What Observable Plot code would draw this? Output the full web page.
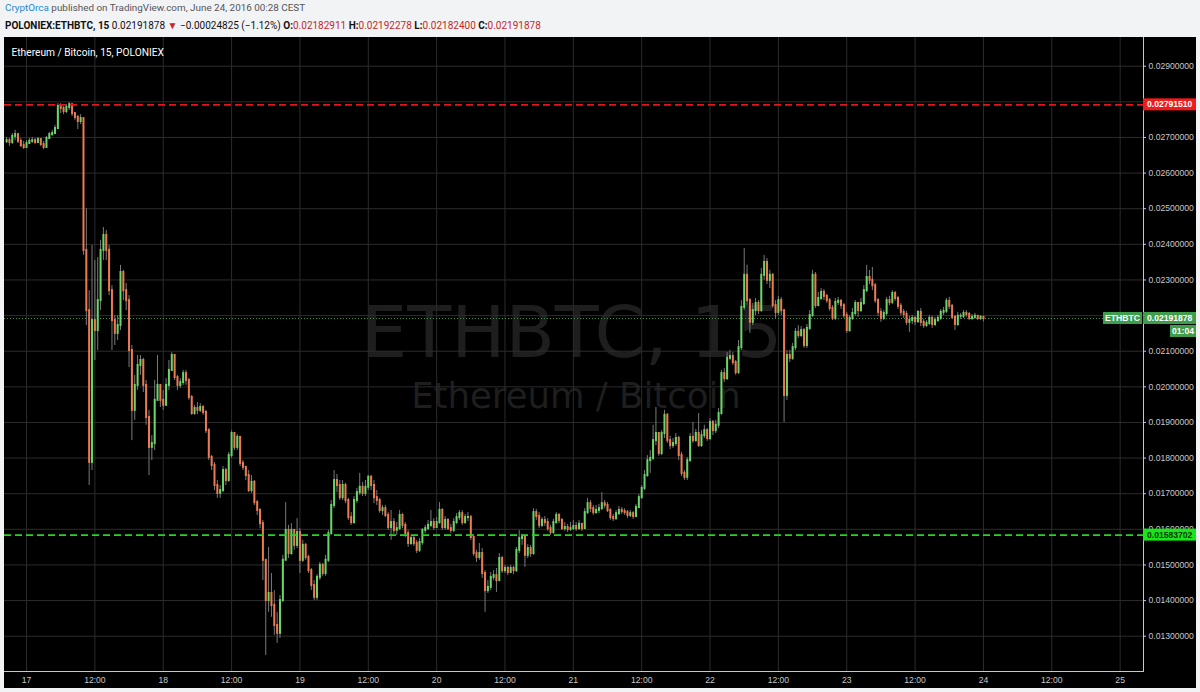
<!DOCTYPE html>
<html><head><meta charset="utf-8">
<script src="https://cdn.jsdelivr.net/npm/d3@7"></script>
<script src="https://cdn.jsdelivr.net/npm/@observablehq/plot@0.6"></script>
<style>
html,body{margin:0;padding:0;background:#f1f3f5;width:1200px;height:692px;overflow:hidden;}
#hdr{position:absolute;left:0;top:0;width:1200px;height:37px;font-family:Roboto,"Liberation Sans",sans-serif;color:#333;}
#l1{position:absolute;left:5px;top:2px;line-height:12px;font-size:9.9px;white-space:nowrap;color:#555;}
#l2{position:absolute;left:5px;top:20px;line-height:12px;font-size:10px;white-space:nowrap;color:#111;}
#l1 .user{color:#1f8ad2;}
.r{color:#c62828;}
#panel{position:absolute;left:4px;top:37px;width:1192px;height:651px;background:#000;}
</style></head><body>
<div id="hdr">
<div id="l1"><span class="user">CryptOrca</span> published on TradingView.com, June 24, 2016 00:28 CEST</div>
<div id="l2"><b>POLONIEX:ETHBTC, 15</b> 0.02191878 <span class="r">▼</span> −0.00024825 (−1.12%) <b>O:</b><span class="r">0.02182911</span> <b>H:</b><span class="r">0.02192278</span> <b>L:</b><span class="r">0.02182400</span> <b>C:</b><span class="r">0.02191878</span></div>
</div>
<div id="panel"></div>
<script>
// ---- data (30-minute candles, first candle Jun 16 20:30) ----
const firstCandle = Date.UTC(2016, 5, 16, 20, 30);
const candleMinutes = 30;
const firstOpen = 0.02688;
const closes = [
 0.02691,0.02686,0.02703,0.02708,0.02689,0.02677,0.02672,
 // Jun 17
 0.02683,0.02689,0.02691,0.02686,0.02694,0.02680,0.02672,0.02697,0.02708,0.02711,0.02725,0.02787,0.02781,0.02773,0.02784,0.02792,
 0.02767,0.02756,0.02745,0.02753,0.02383,0.02214,0.01788,0.02186,0.02158,0.02242,0.02383,0.02425,0.02383,0.02270,0.02186,0.02150,
 0.02172,0.02321,0.02270,0.02242,0.02102,0.01934,0.02004,0.02060,0.02074,0.02004,0.01914,0.01830,0.01841,0.01962,0.02004,0.01962,
 // Jun 18
 0.01948,0.02004,0.02046,0.02088,0.02026,0.02004,0.02012,0.02037,0.02018,0.01970,0.01925,0.01939,0.01934,0.01942,0.01928,0.01877,
 0.01802,0.01779,0.01723,0.01701,0.01709,0.01765,0.01737,0.01807,0.01869,0.01830,0.01858,0.01785,0.01774,0.01751,0.01709,0.01732,
 0.01675,0.01653,0.01616,0.01513,0.01400,0.01420,0.01386,0.01330,0.01308,0.01400,0.01513,0.01597,0.01532,0.01597,0.01555,0.01591,
 // Jun 19
 0.01513,0.01555,0.01521,0.01484,0.01442,0.01409,0.01465,0.01499,0.01476,0.01513,0.01588,0.01667,0.01737,0.01723,0.01689,0.01723,
 0.01681,0.01633,0.01619,0.01681,0.01703,0.01718,0.01701,0.01718,0.01746,0.01723,0.01689,0.01681,0.01653,0.01658,0.01639,0.01605,
 0.01619,0.01597,0.01602,0.01639,0.01611,0.01588,0.01560,0.01574,0.01560,0.01541,0.01563,0.01597,0.01602,0.01611,0.01619,0.01605,
 // Jun 20
 0.01619,0.01653,0.01605,0.01625,0.01602,0.01597,0.01619,0.01633,0.01644,0.01619,0.01633,0.01633,0.01577,0.01532,0.01521,0.01532,
 0.01476,0.01428,0.01437,0.01465,0.01470,0.01456,0.01518,0.01484,0.01490,0.01479,0.01490,0.01484,0.01541,0.01574,0.01577,0.01527,
 0.01546,0.01532,0.01647,0.01636,0.01611,0.01625,0.01619,0.01602,0.01591,0.01619,0.01639,0.01625,0.01602,0.01605,0.01600,0.01602,
 // Jun 21
 0.01608,0.01602,0.01614,0.01602,0.01647,0.01672,0.01658,0.01647,0.01653,0.01658,0.01672,0.01667,0.01653,0.01633,0.01630,0.01644,
 0.01653,0.01650,0.01647,0.01639,0.01644,0.01636,0.01661,0.01689,0.01715,0.01751,0.01793,0.01799,0.01849,0.01869,0.01813,0.01869,
 0.01920,0.01849,0.01835,0.01841,0.01855,0.01807,0.01757,0.01746,0.01793,0.01858,0.01849,0.01869,0.01835,0.01863,0.01877,0.01855,
 // Jun 22
 0.01900,0.01877,0.01892,0.01925,0.02037,0.02023,0.02080,0.02085,0.02068,0.02040,0.02110,0.02223,0.02313,0.02242,0.02181,0.02214,
 0.02234,0.02214,0.02313,0.02349,0.02299,0.02313,0.02228,0.02209,0.02242,0.02214,0.01976,0.02088,0.02080,0.02110,0.02153,0.02144,
 0.02158,0.02116,0.02164,0.02200,0.02313,0.02228,0.02248,0.02265,0.02254,0.02242,0.02220,0.02192,0.02237,0.02240,0.02228,0.02200,
 // Jun 23
 0.02158,0.02192,0.02206,0.02234,0.02214,0.02234,0.02270,0.02307,0.02299,0.02284,0.02242,0.02209,0.02192,0.02206,0.02242,0.02237,
 0.02262,0.02248,0.02226,0.02209,0.02203,0.02181,0.02186,0.02192,0.02183,0.02209,0.02181,0.02172,0.02178,0.02192,0.02175,0.02186,
 0.02192,0.02209,0.02212,0.02240,0.02226,0.02195,0.02175,0.02198,0.02198,0.02206,0.02203,0.02192,0.02195,0.02198,0.02192,0.02195,
 // Jun 24
 0.02191878
];
const highs = [
 0.02700,0.02697,0.02711,0.02720,0.02708,0.02697,0.02689,
 0.02691,0.02697,0.02700,0.02697,0.02700,0.02697,0.02689,0.02703,0.02714,0.02720,0.02734,0.02795,0.02795,0.02787,0.02792,0.02798,
 0.02792,0.02770,0.02762,0.02764,0.02753,0.02500,0.02270,0.02397,0.02355,0.02363,0.02411,0.02447,0.02439,0.02397,0.02284,0.02200,
 0.02200,0.02341,0.02327,0.02290,0.02256,0.02116,0.02032,0.02088,0.02088,0.02080,0.02018,0.01934,0.01863,0.02018,0.02088,0.02004,
 0.01990,0.02023,0.02074,0.02096,0.02091,0.02032,0.02023,0.02046,0.02046,0.02023,0.01976,0.01948,0.01956,0.01953,0.01948,0.01934,
 0.01883,0.01807,0.01788,0.01737,0.01723,0.01776,0.01771,0.01816,0.01877,0.01872,0.01866,0.01861,0.01793,0.01776,0.01765,0.01751,
 0.01737,0.01681,0.01658,0.01625,0.01513,0.01549,0.01476,0.01428,0.01367,0.01414,0.01527,0.01675,0.01611,0.01616,0.01583,0.01630,
 0.01602,0.01569,0.01560,0.01527,0.01490,0.01456,0.01473,0.01507,0.01504,0.01527,0.01597,0.01681,0.01765,0.01754,0.01737,0.01737,
 0.01729,0.01687,0.01647,0.01692,0.01715,0.01757,0.01732,0.01737,0.01751,0.01751,0.01737,0.01709,0.01687,0.01667,0.01667,0.01647,
 0.01653,0.01630,0.01619,0.01653,0.01644,0.01619,0.01597,0.01583,0.01580,0.01569,0.01574,0.01602,0.01611,0.01625,0.01653,0.01630,
 0.01633,0.01675,0.01658,0.01636,0.01630,0.01614,0.01630,0.01644,0.01653,0.01653,0.01642,0.01647,0.01639,0.01586,0.01541,0.01560,
 0.01546,0.01484,0.01456,0.01479,0.01484,0.01490,0.01532,0.01524,0.01499,0.01496,0.01499,0.01496,0.01549,0.01597,0.01586,0.01583,
 0.01557,0.01555,0.01658,0.01656,0.01647,0.01633,0.01636,0.01630,0.01611,0.01628,0.01647,0.01644,0.01630,0.01619,0.01614,0.01619,
 0.01625,0.01619,0.01625,0.01614,0.01658,0.01687,0.01681,0.01667,0.01667,0.01670,0.01703,0.01681,0.01675,0.01658,0.01642,0.01653,
 0.01664,0.01661,0.01658,0.01653,0.01653,0.01650,0.01670,0.01698,0.01723,0.01765,0.01807,0.01821,0.01892,0.01942,0.01872,0.01877,
 0.01934,0.01925,0.01861,0.01855,0.01869,0.01861,0.01816,0.01765,0.01802,0.01869,0.01900,0.01880,0.01925,0.01877,0.01892,0.01883,
 0.01911,0.01906,0.01906,0.01939,0.02046,0.02051,0.02096,0.02102,0.02096,0.02074,0.02130,0.02242,0.02388,0.02341,0.02248,0.02234,
 0.02248,0.02242,0.02332,0.02369,0.02360,0.02327,0.02318,0.02242,0.02254,0.02251,0.02214,0.02102,0.02102,0.02122,0.02164,0.02172,
 0.02169,0.02164,0.02175,0.02214,0.02327,0.02321,0.02265,0.02276,0.02273,0.02259,0.02248,0.02228,0.02248,0.02251,0.02245,0.02234,
 0.02209,0.02200,0.02220,0.02242,0.02237,0.02248,0.02284,0.02341,0.02327,0.02335,0.02290,0.02248,0.02220,0.02214,0.02251,0.02254,
 0.02270,0.02268,0.02254,0.02234,0.02217,0.02212,0.02198,0.02200,0.02198,0.02214,0.02220,0.02189,0.02186,0.02200,0.02198,0.02195,
 0.02200,0.02217,0.02223,0.02248,0.02251,0.02231,0.02200,0.02209,0.02206,0.02214,0.02214,0.02209,0.02203,0.02206,0.02200,0.02200,
 0.02198
];
const lows = [
 0.02683,0.02675,0.02680,0.02691,0.02683,0.02672,0.02666,
 0.02672,0.02680,0.02683,0.02680,0.02683,0.02675,0.02666,0.02672,0.02694,0.02703,0.02708,0.02722,0.02767,0.02764,0.02767,0.02776,
 0.02759,0.02748,0.02722,0.02736,0.02369,0.02172,0.01723,0.01765,0.02074,0.02102,0.02214,0.02355,0.02355,0.02256,0.02102,0.02116,
 0.02130,0.02158,0.02242,0.02214,0.02054,0.01849,0.01906,0.01990,0.02032,0.01984,0.01892,0.01751,0.01793,0.01821,0.01962,0.01942,
 0.01934,0.01948,0.01990,0.02046,0.02018,0.01990,0.01995,0.02004,0.02004,0.01962,0.01920,0.01920,0.01922,0.01928,0.01920,0.01869,
 0.01793,0.01765,0.01709,0.01687,0.01687,0.01703,0.01723,0.01732,0.01799,0.01821,0.01821,0.01776,0.01765,0.01737,0.01703,0.01701,
 0.01667,0.01639,0.01602,0.01456,0.01246,0.01367,0.01353,0.01302,0.01280,0.01294,0.01395,0.01513,0.01518,0.01527,0.01541,0.01546,
 0.01476,0.01507,0.01513,0.01476,0.01428,0.01400,0.01400,0.01456,0.01468,0.01468,0.01507,0.01583,0.01658,0.01703,0.01681,0.01681,
 0.01672,0.01625,0.01611,0.01614,0.01672,0.01695,0.01692,0.01692,0.01709,0.01709,0.01672,0.01667,0.01645,0.01639,0.01633,0.01597,
 0.01569,0.01586,0.01583,0.01597,0.01602,0.01577,0.01549,0.01555,0.01552,0.01532,0.01535,0.01555,0.01588,0.01597,0.01605,0.01597,
 0.01602,0.01614,0.01597,0.01597,0.01597,0.01588,0.01591,0.01614,0.01625,0.01611,0.01614,0.01622,0.01569,0.01524,0.01507,0.01513,
 0.01462,0.01367,0.01420,0.01428,0.01456,0.01423,0.01470,0.01476,0.01476,0.01470,0.01476,0.01473,0.01479,0.01532,0.01555,0.01493,
 0.01518,0.01521,0.01527,0.01625,0.01602,0.01605,0.01608,0.01594,0.01583,0.01586,0.01614,0.01616,0.01597,0.01594,0.01591,0.01594,
 0.01597,0.01594,0.01597,0.01594,0.01600,0.01642,0.01647,0.01639,0.01642,0.01644,0.01653,0.01658,0.01647,0.01625,0.01622,0.01625,
 0.01639,0.01642,0.01639,0.01630,0.01633,0.01628,0.01633,0.01658,0.01684,0.01709,0.01746,0.01757,0.01793,0.01835,0.01805,0.01807,
 0.01855,0.01841,0.01824,0.01827,0.01833,0.01793,0.01748,0.01737,0.01737,0.01788,0.01841,0.01844,0.01830,0.01830,0.01855,0.01847,
 0.01849,0.01863,0.01869,0.01883,0.01920,0.02012,0.02018,0.02074,0.02060,0.02032,0.02035,0.02102,0.02214,0.02228,0.02150,0.02172,
 0.02200,0.02203,0.02209,0.02299,0.02287,0.02276,0.02220,0.02192,0.02200,0.02200,0.01900,0.01962,0.02068,0.02074,0.02102,0.02136,
 0.02138,0.02108,0.02108,0.02158,0.02195,0.02220,0.02226,0.02242,0.02242,0.02234,0.02212,0.02186,0.02186,0.02228,0.02217,0.02192,
 0.02150,0.02153,0.02186,0.02198,0.02195,0.02209,0.02228,0.02265,0.02287,0.02270,0.02234,0.02198,0.02181,0.02186,0.02198,0.02228,
 0.02231,0.02240,0.02217,0.02200,0.02192,0.02172,0.02153,0.02175,0.02172,0.02178,0.02169,0.02164,0.02167,0.02172,0.02164,0.02169,
 0.02181,0.02186,0.02200,0.02206,0.02217,0.02189,0.02158,0.02169,0.02189,0.02192,0.02195,0.02186,0.02186,0.02189,0.02186,0.02186,
 0.02182
];
const resistance = 0.02791510;
const support = 0.01583702;
const lastPrice = 0.02191878;
const yTicks = [0.013,0.014,0.015,0.016,0.017,0.018,0.019,0.020,0.021,0.022,0.023,0.024,0.025,0.026,0.027,0.028,0.029];
// tick labels that stay visible (0.022 and 0.028 sit under the price tags)
const yLabelTicks = [0.013,0.014,0.015,0.016,0.017,0.018,0.019,0.020,0.021,0.023,0.024,0.025,0.026,0.027,0.029];
const xTickDates = ["2016-06-17T00:00Z","2016-06-17T12:00Z","2016-06-18T00:00Z","2016-06-18T12:00Z","2016-06-19T00:00Z","2016-06-19T12:00Z",
 "2016-06-20T00:00Z","2016-06-20T12:00Z","2016-06-21T00:00Z","2016-06-21T12:00Z","2016-06-22T00:00Z","2016-06-22T12:00Z",
 "2016-06-23T00:00Z","2016-06-23T12:00Z","2016-06-24T00:00Z","2016-06-24T12:00Z","2016-06-25T00:00Z"];
const watermark = "ETHBTC, 15";
const watermarkSub = "Ethereum / Bitcoin";
const chartTitle = "Ethereum / Bitcoin, 15, POLONIEX";
const timer = "01:04";

// ---- build table ----
const candles = closes.map((c, i) => ({
  t: new Date(firstCandle + i * candleMinutes * 60000),
  open: i === 0 ? firstOpen : closes[i - 1],
  close: c, high: highs[i], low: lows[i]
}));
const xTicks = xTickDates.map(s => new Date(s));
const UP = "#6ad66a", DOWN = "#ee7a52", WICK = "#7a7a7a", GRID = "#2c2c2c";

const W = 1192, H = 651, MR = 53, MB = 17;
const chart = Plot.plot({
  width: W, height: H,
  marginLeft: 0, marginRight: MR, marginTop: 0, marginBottom: MB,
  style: {background: "#000", color: "#c8c8c8", fontSize: "8.6px", fontFamily: "'Liberation Sans', Arial, sans-serif"},
  x: {type: "utc", domain: [new Date(Date.UTC(2016,5,16,20,8)), new Date(Date.UTC(2016,5,25,4,6))],
      ticks: xTicks, tickFormat: d => d.getUTCHours() === 0 ? String(d.getUTCDate()) : "12:00",
      tickSize: 0, tickPadding: 5, label: null, line: true},
  y: {domain: [0.012009, 0.029806], ticks: yLabelTicks, tickFormat: d3.format(".8f"),
      axis: "right", tickSize: 2, tickPadding: 3, label: null, line: true},
  marks: [
    Plot.text([watermark], {frameAnchor: "middle", dx: -2, dy: -21, fontSize: 72, fill: "#1e1e1e",
      fontFamily: "'DejaVu Sans', sans-serif"}),
    Plot.text([watermarkSub], {frameAnchor: "middle", dx: 2, dy: 42, fontSize: 35.5, fill: "#1e1e1e",
      fontFamily: "'DejaVu Sans', sans-serif"}),
    Plot.ruleY(yTicks, {stroke: GRID}),
    Plot.ruleX(xTicks, {stroke: GRID}),
    Plot.text([chartTitle], {frameAnchor: "top-left", dx: 7, dy: 11, fill: "#fff", fontSize: 10.2,
      fontFamily: "Roboto, sans-serif", textAnchor: "start"}),
    Plot.ruleY([lastPrice], {stroke: "#3c9a4a", strokeDasharray: "1,2"}),
    Plot.ruleX(candles, {x: "t", y1: "low", y2: "high", stroke: WICK, strokeWidth: 1}),
    Plot.ruleX(candles, {x: "t", y1: "open", y2: "close", strokeWidth: 2, strokeLinecap: "square",
      stroke: d => d.close >= d.open ? UP : DOWN}),
    Plot.ruleY([resistance], {stroke: "#e3151a", strokeWidth: 1.6, strokeDasharray: "7,4"}),
    Plot.ruleY([support], {stroke: "#1fd81f", strokeWidth: 1.6, strokeDasharray: "7,4"})
  ]
});
document.getElementById("panel").appendChild(chart);

// ---- price tags on the right axis, positioned with the plot's own y scale ----
const ys = chart.scale("y");
const svg = d3.select(chart.tagName === "svg" ? chart : chart.querySelector("svg"));
const ax = W - MR;
function tag(x, yc, w, h, fill, text, color, anchor) {
  const g = svg.append("g");
  g.append("rect").attr("x", x).attr("y", yc - h / 2).attr("width", w).attr("height", h).attr("fill", fill);
  g.append("text").attr("x", anchor === "middle" ? x + w / 2 : x + 4).attr("y", yc).attr("dy", "0.35em")
    .attr("text-anchor", anchor).attr("fill", color).attr("font-size", 8.6).attr("font-weight", "bold")
    .attr("font-family", "'Liberation Sans', Arial, sans-serif").text(text);
}
tag(ax, ys.apply(resistance), 53, 12, "#f21b1b", d3.format(".8f")(resistance), "#fff", "start");
tag(ax, ys.apply(support), 53, 12, "#19e619", d3.format(".8f")(support), "#063806", "start");
tag(ax, ys.apply(lastPrice), 53, 12, "#3f9e4c", d3.format(".8f")(lastPrice), "#fff", "start");
tag(ax - 40, ys.apply(lastPrice), 39, 12, "#3f9e4c", "ETHBTC", "#fff", "middle");
tag(ax + 27, ys.apply(lastPrice) + 13, 26, 12, "#3f9e4c", timer, "#fff", "middle");
</script>
</body></html>
